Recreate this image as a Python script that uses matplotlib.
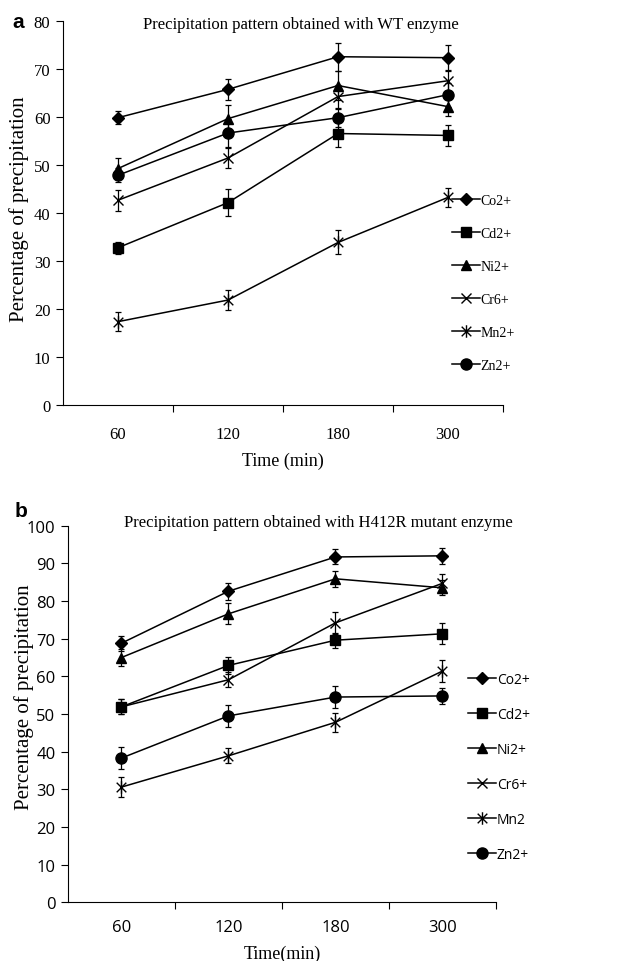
import matplotlib
matplotlib.use("Agg")
import matplotlib.pyplot as plt
from matplotlib.path import Path

# x categories (time in min)
times = ["60", "120", "180", "300"]
ions_a = ["Co2+", "Cd2+", "Ni2+", "Cr6+", "Mn2+", "Zn2+"]
ions_b = ["Co2+", "Cd2+", "Ni2+", "Cr6+", "Mn2", "Zn2+"]

# thin asterisk marker (x with a vertical stroke)
star = Path([(-1, -1), (1, 1), (-1, 1), (1, -1), (0, -1.3), (0, 1.3)],
            [Path.MOVETO, Path.LINETO] * 3)
markers = ["D", "s", "^", "x", star, "o"]
msizes = [6.5, 7, 7.5, 7, 9, 8]

# WT enzyme
wt_vals = [
    [59.8, 65.7, 72.5, 72.3],   # Co2+
    [32.7, 42.1, 56.5, 56.1],   # Cd2+
    [49.2, 59.6, 66.5, 62.1],   # Ni2+
    [42.6, 51.4, 64.2, 67.5],   # Cr6+
    [17.3, 21.8, 33.8, 43.2],   # Mn2+
    [47.8, 56.6, 59.8, 64.6],   # Zn2+
]
wt_err = [
    [1.4, 2.2, 2.9, 2.7],
    [1.3, 2.8, 2.8, 2.1],
    [2.1, 2.9, 3.0, 2.0],
    [2.2, 2.0, 2.5, 2.3],
    [2.0, 2.0, 2.5, 2.0],
    [1.5, 3.0, 2.0, 2.5],
]

# H412R mutant enzyme
mut_vals = [
    [68.8, 82.6, 91.7, 92.0],   # Co2+
    [51.9, 62.9, 69.6, 71.3],   # Cd2+
    [65.0, 76.6, 85.9, 83.5],   # Ni2+
    [51.9, 59.1, 74.2, 84.7],   # Cr6+
    [30.6, 38.9, 47.8, 61.4],   # Mn2
    [38.3, 49.5, 54.5, 54.8],   # Zn2+
]
mut_err = [
    [2.0, 2.3, 2.0, 2.2],
    [2.0, 2.2, 2.0, 2.8],
    [2.3, 2.8, 2.2, 2.0],
    [2.0, 2.0, 3.0, 2.5],
    [2.7, 2.0, 2.5, 3.0],
    [3.0, 3.0, 3.0, 2.2],
]

serif = "Liberation Serif"
sans = "Open Sans"

fig = plt.figure(figsize=(6.26, 9.62), dpi=100)
ax1 = fig.add_axes([0.1006, 0.5783, 0.703, 0.3991])
ax2 = fig.add_axes([0.1086, 0.0610, 0.6837, 0.3915])


def draw(ax, vals, errs, labels, ymax, tickfont, title, title_xy, xlabel,
         xpad, lpad, ylab_xy, leg_xy):
    x = list(range(len(times)))
    handles = []
    for v, e, m, ms, lab in zip(vals, errs, markers, msizes, labels):
        ax.errorbar(x, v, yerr=e, fmt="none", ecolor="black", capsize=2.5,
                    elinewidth=0.9, capthick=0.9)
        h, = ax.plot(x, v, color="black", lw=1.1, marker=m, ms=ms, mew=1.0,
                     label=lab)
        handles.append(h)
    ax.set_xlim(-0.5, len(times) - 0.5)
    ax.set_ylim(0, ymax)
    ax.set_yticks(range(0, ymax + 1, 10))
    ax.set_xticks([i + 0.5 for i in range(len(times))])
    ax.set_xticklabels([])
    ax.set_xticks(x, minor=True)
    ax.set_xticklabels(times, minor=True)
    ax.tick_params(axis="x", which="minor", length=0, pad=xpad)
    ax.tick_params(axis="x", which="major", length=5, direction="out")
    ax.tick_params(axis="y", length=5, direction="out", pad=4)
    for t in ax.get_xticklabels(minor=True) + ax.get_yticklabels():
        t.set_fontfamily(tickfont)
        t.set_fontsize(12)
    ax.spines["top"].set_visible(False)
    ax.spines["right"].set_visible(False)
    ax.set_ylabel("Percentage of precipitation", fontfamily=serif, fontsize=15)
    ax.yaxis.set_label_coords(*ylab_xy)
    ax.set_xlabel(xlabel, fontfamily=serif, fontsize=13, labelpad=lpad)
    fig.text(title_xy[0], title_xy[1], title, fontfamily=serif, fontsize=12,
             ha="center", va="center")
    fig.legend(handles=handles, labels=labels, loc="center left",
               bbox_to_anchor=leg_xy, frameon=False,
               handlelength=2.0, handletextpad=0.05, labelspacing=1.45,
               borderpad=0, borderaxespad=0,
               prop={"family": tickfont, "size": 10})


draw(ax1, wt_vals, wt_err, ions_a, 80, serif,
     "Precipitation pattern obtained with WT enzyme", (301 / 626, 1 - 25 / 962),
     "Time (min)", 15, 7, (-0.077, 0.512), (0.722, 0.7048))
draw(ax2, mut_vals, mut_err, ions_b, 100, sans,
     "Precipitation pattern obtained with H412R mutant enzyme",
     (318 / 626, 1 - 523 / 962), "Time(min)", 12, 7, (-0.079, 0.548),
     (0.748, 0.2017))

fig.text(0.02, 0.977, "a", fontsize=15, fontweight="bold", family="Liberation Sans", va="center")
fig.text(0.023, 0.468, "b", fontsize=15, fontweight="bold", family="Liberation Sans", va="center")

fig.savefig("out.png", dpi=100, facecolor="white")
